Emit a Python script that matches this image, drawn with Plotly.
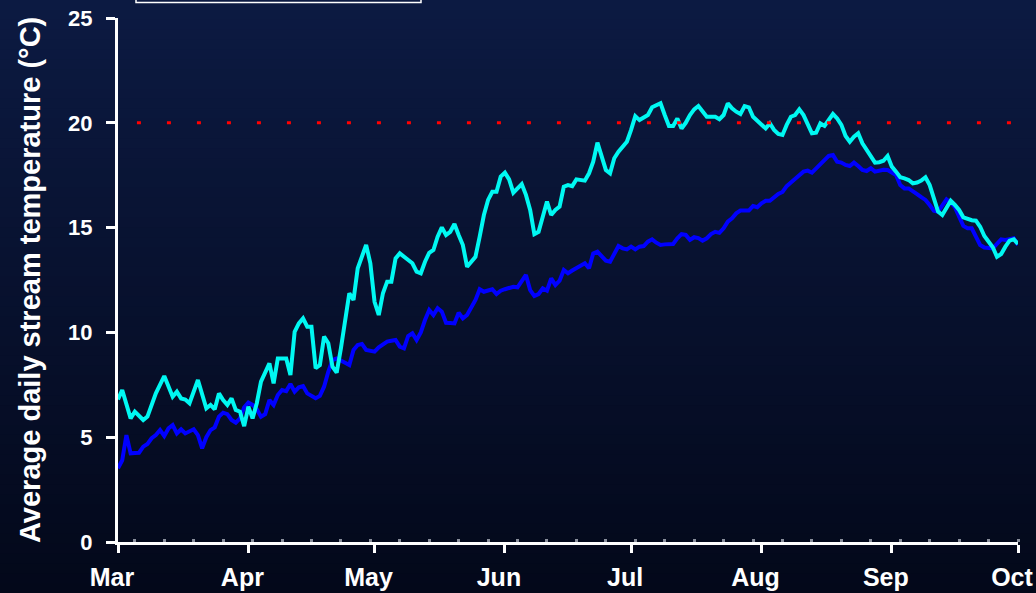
import plotly.graph_objects as go
import pandas as pd

# Season: daily mean stream temperature, 1 March to 1 October
season_start = pd.Timestamp("2005-03-01")

# Upper (warmer) station: day offset from 1 March, temperature in °C
warm_days = [0, 1, 3, 4, 6, 7, 9, 11, 13, 14, 15, 16, 17, 19, 21, 22, 23, 24, 25, 26,
             27, 28, 29, 30, 31, 32, 33, 34, 36, 37, 38, 39, 40, 41, 42, 43, 44, 45, 46, 47,
             48, 49, 50, 51, 52, 53, 55, 56, 57, 59, 60, 61, 62, 63, 64, 65, 66, 67, 68, 70,
             71, 72, 73, 74, 75, 76, 77, 78, 79, 80, 81, 82, 83, 84, 85, 86, 87, 88, 89, 90,
             91, 92, 93, 94, 95, 96, 97, 98, 99, 100, 101, 102, 103, 104, 105, 106, 107, 108, 109, 110,
             111, 112, 113, 114, 115, 116, 117, 118, 119, 120, 121, 122, 123, 124, 125, 126, 127, 128, 129, 130,
             131, 132, 133, 134, 135, 136, 137, 138, 139, 140, 141, 142, 143, 144, 145, 146, 147, 148, 149, 150,
             151, 152, 153, 154, 155, 156, 157, 158, 159, 160, 161, 162, 163, 164, 165, 166, 167, 168, 169, 170,
             171, 172, 173, 174, 175, 176, 177, 178, 179, 180, 181, 182, 183, 184, 185, 186, 187, 188, 189, 190,
             191, 192, 193, 194, 195, 196, 197, 198, 199, 200, 201, 202, 203, 204, 205, 206, 207, 208, 209, 210,
             211, 212, 213, 214]
warm_temp = [6.8, 7.25, 5.9, 6.22, 5.82, 5.98, 7.09, 7.92, 6.93, 7.17, 6.85, 6.8, 6.62, 7.73, 6.38, 6.54, 6.33, 7.09, 6.77, 6.54,
             6.85, 6.3, 6.22, 5.53, 6.46, 5.9, 6.62, 7.65, 8.52, 7.57, 8.76, 8.76, 8.76, 7.97, 10.03, 10.43, 10.67, 10.27, 10.27, 8.29,
             8.44, 9.8, 9.48, 8.36, 8.08, 9.24, 11.87, 11.55, 13.06, 14.17, 13.3, 11.46, 10.83, 11.87, 12.42, 12.42, 13.53, 13.77, 13.61, 13.3,
             12.9, 12.82, 13.37, 13.8, 13.93, 14.57, 15.01, 14.65, 14.8, 15.17, 14.65, 14.17, 13.13, 13.37, 13.61, 14.57, 15.6, 16.32, 16.71, 16.71,
             17.43, 17.62, 17.3, 16.67, 16.87, 17.08, 16.56, 15.84, 14.69, 14.8, 15.52, 16.24, 15.6, 15.84, 16.0, 16.95, 17.03, 16.98, 17.3, 17.27,
             17.24, 17.59, 18.14, 19.05, 18.38, 17.75, 17.59, 18.31, 18.62, 18.83, 19.1, 19.66, 20.32, 20.13, 20.25, 20.37, 20.74, 20.85, 20.93, 20.37,
             19.85, 19.85, 20.21, 19.73, 20.0, 20.37, 20.64, 20.8, 20.53, 20.29, 20.29, 20.29, 20.17, 20.37, 20.93, 20.69, 20.53, 20.42, 20.8, 20.74,
             20.29, 20.1, 19.9, 19.73, 19.97, 19.66, 19.47, 19.42, 19.9, 20.29, 20.37, 20.64, 20.37, 19.9, 19.5, 19.53, 19.97, 19.85, 20.17, 20.42,
             20.21, 19.9, 19.37, 19.1, 19.34, 19.5, 19.02, 18.7, 18.42, 18.1, 18.12, 18.19, 18.42, 17.91, 17.67, 17.4, 17.35, 17.27, 17.11, 17.15,
             17.24, 17.4, 17.03, 16.32, 15.76, 15.6, 15.92, 16.28, 16.08, 15.84, 15.49, 15.4, 15.35, 15.33, 15.04, 14.6, 14.33, 14.06, 13.61, 13.74,
             14.09, 14.38, 14.44, 14.22]

# Lower (cooler) station
cool_days = [0, 1, 2, 3, 4, 5, 6, 7, 8, 9, 10, 11, 12, 13, 14, 15, 16, 17, 18, 19,
             20, 21, 22, 23, 24, 25, 26, 27, 28, 29, 30, 31, 32, 33, 34, 35, 36, 37, 38, 39,
             40, 41, 42, 43, 44, 45, 46, 47, 48, 49, 50, 51, 52, 53, 54, 55, 56, 57, 58, 59,
             60, 61, 62, 63, 64, 65, 66, 67, 68, 69, 70, 71, 72, 73, 74, 75, 76, 77, 78, 79,
             80, 81, 82, 83, 84, 85, 86, 87, 88, 89, 90, 91, 92, 93, 94, 95, 96, 97, 98, 99,
             100, 101, 102, 103, 104, 105, 106, 107, 108, 109, 110, 111, 112, 113, 114, 115, 116, 117, 118, 119,
             120, 121, 122, 123, 124, 125, 126, 127, 128, 129, 130, 131, 132, 133, 134, 135, 136, 137, 138, 139,
             140, 141, 142, 143, 144, 145, 146, 147, 148, 149, 150, 151, 152, 153, 154, 155, 156, 157, 158, 159,
             160, 161, 162, 163, 164, 165, 166, 167, 168, 169, 170, 171, 172, 173, 174, 175, 176, 177, 178, 179,
             180, 181, 182, 183, 184, 185, 186, 187, 188, 189, 190, 191, 192, 193, 194, 195, 196, 197, 198, 199,
             200, 201, 202, 203, 204, 205, 206, 207, 208, 209, 210, 211, 212, 213, 214]
cool_temp = [3.52, 3.9, 5.1, 4.23, 4.25, 4.26, 4.55, 4.68, 4.95, 5.1, 5.34, 5.06, 5.42, 5.58, 5.18, 5.38, 5.18, 5.26, 5.38, 5.1,
             4.47, 5.0, 5.34, 5.47, 5.98, 6.17, 6.1, 5.82, 5.69, 5.9, 6.43, 6.65, 6.54, 6.33, 5.98, 6.1, 6.77, 6.54, 7.01, 7.25,
             7.2, 7.54, 7.17, 7.38, 7.44, 7.09, 6.95, 6.86, 6.97, 7.41, 8.12, 8.68, 8.76, 8.68, 8.55, 8.44, 9.16, 9.4, 9.45, 9.16,
             9.1, 9.08, 9.29, 9.45, 9.56, 9.6, 9.64, 9.32, 9.24, 9.83, 9.96, 9.64, 10.0, 10.59, 11.07, 10.83, 11.15, 10.99, 10.46, 10.45,
             10.43, 10.94, 10.67, 10.83, 11.15, 11.55, 12.06, 11.94, 12.0, 12.06, 11.83, 11.99, 12.06, 12.13, 12.18, 12.15, 12.47, 12.74, 12.02, 11.74,
             11.83, 12.1, 11.99, 12.58, 12.26, 12.47, 12.98, 12.82, 12.95, 13.06, 13.17, 13.3, 13.06, 13.77, 13.85, 13.6, 13.42, 13.37, 13.77, 14.12,
             14.01, 13.96, 14.09, 13.96, 14.09, 14.12, 14.33, 14.44, 14.28, 14.17, 14.2, 14.2, 14.22, 14.49, 14.69, 14.65, 14.41, 14.54, 14.5, 14.38,
             14.49, 14.69, 14.8, 14.75, 14.97, 15.28, 15.44, 15.68, 15.81, 15.81, 15.81, 16.03, 15.97, 16.16, 16.28, 16.28, 16.45, 16.6, 16.7, 16.98,
             17.15, 17.35, 17.5, 17.67, 17.72, 17.62, 17.83, 18.06, 18.22, 18.42, 18.46, 18.14, 18.1, 17.99, 17.94, 18.1, 17.94, 17.75, 17.7, 17.83,
             17.67, 17.72, 17.76, 17.75, 17.62, 17.51, 17.03, 16.87, 16.87, 16.75, 16.6, 16.45, 16.32, 16.08, 15.81, 15.76, 16.03, 16.35, 16.19, 15.97,
             15.52, 15.08, 14.97, 14.97, 14.57, 14.17, 14.05, 14.01, 14.01, 14.22, 14.44, 14.41, 14.45, 14.49, 14.17]

# Temperature criterion and the day (offset) where its reference line begins
criterion_temp = 20
criterion_start_day = 4.5

month_labels = ["Mar", "Apr", "May", "Jun", "Jul", "Aug", "Sep", "Oct"]
y_ticks = [0, 5, 10, 15, 20, 25]

month_starts = pd.date_range(season_start, periods=len(month_labels), freq="MS")
warm_dates = season_start + pd.to_timedelta(warm_days, unit="D")
cool_dates = season_start + pd.to_timedelta(cool_days, unit="D")
season_end = month_starts[-1]
criterion_start = season_start + pd.to_timedelta(criterion_start_day, unit="D")

W, H = 1036, 593
ML, MR, MT, MB = 118, 18, 18, 51
PW, PH = W - ML - MR, H - MT - MB

fig = go.Figure()

# Dark navy backdrop, slightly lighter towards the top
shapes = []
n_bands = 60
top_rgb = (12, 26, 66)
bot_rgb = (3, 8, 26)
x0p, x1p = -ML / PW, 1 + MR / PW
y0p, y1p = -MB / PH, 1 + MT / PH
for i in range(n_bands):
    f = i / (n_bands - 1)
    r = round(bot_rgb[0] + (top_rgb[0] - bot_rgb[0]) * f)
    g = round(bot_rgb[1] + (top_rgb[1] - bot_rgb[1]) * f)
    b = round(bot_rgb[2] + (top_rgb[2] - bot_rgb[2]) * f)
    ya = y0p + (y1p - y0p) * i / n_bands
    yb = y0p + (y1p - y0p) * (i + 1) / n_bands + 0.002
    shapes.append(dict(type="rect", xref="paper", yref="paper", x0=x0p, x1=x1p, y0=ya, y1=yb,
                       fillcolor=f"rgb({r},{g},{b})", line=dict(width=0), layer="below"))

# Legend frame along the top edge
shapes.append(dict(type="rect", xref="paper", yref="paper",
                   x0=(136 - ML) / PW, x1=(421 - ML) / PW,
                   y0=1 + (MT - 2.5) / PH, y1=1 + (MT + 20) / PH,
                   line=dict(color="white", width=1.5), fillcolor="rgba(0,0,0,0)", layer="above"))

# Criterion line at 20 °C
shapes.append(dict(type="line", xref="x", yref="y",
                   x0=criterion_start, x1=season_end, y0=criterion_temp, y1=criterion_temp,
                   line=dict(color="#ff0000", width=3, dash="4px,26px"), layer="above"))

fig.add_trace(go.Scatter(x=cool_dates, y=cool_temp, mode="lines", name="Station B",
                         line=dict(color="#0000ff", width=4), showlegend=False))
fig.add_trace(go.Scatter(x=warm_dates, y=warm_temp, mode="lines", name="Station A",
                         line=dict(color="#00f8f2", width=4), showlegend=False))

fig.update_layout(
    width=W, height=H,
    margin=dict(l=ML, r=MR, t=MT, b=MB, autoexpand=False),
    paper_bgcolor="rgb(7,15,40)",
    plot_bgcolor="rgba(0,0,0,0)",
    shapes=shapes,
    showlegend=False,
    annotations=[dict(
        text="<b>Average daily stream temperature (°C)</b>",
        xref="paper", yref="paper", x=(30 - ML) / PW, y=0.5,
        xanchor="center", yanchor="middle", textangle=-90, showarrow=False,
        font=dict(family="Liberation Sans, Arial, sans-serif", size=29, color="white"),
    )],
)

fig.update_xaxes(
    range=[season_start, season_end],
    tickvals=month_starts, ticktext=month_labels,
    automargin=False,
    showgrid=False, zeroline=False,
    showline=True, linecolor="white", linewidth=3,
    ticks="outside", ticklen=8, tickwidth=2.5, tickcolor="white",
    tickfont=dict(family="Liberation Sans, Arial, sans-serif",
                  size=25, color="white", weight="bold"),
    ticklabelstandoff=3,
    ticklabelshift=-6,
    ticklabeloverflow="allow",
    minor=dict(ticks="inside", ticklen=3, tickwidth=3, tickcolor="#8a8f9c",
               dtick=7 * 86400000, tick0=season_start + pd.Timedelta(days=4), showgrid=False),
)
fig.update_yaxes(
    range=[0, 25], tickvals=y_ticks,
    automargin=False,
    showgrid=False, zeroline=False,
    showline=True, linecolor="white", linewidth=3,
    ticks="outside", ticklen=9, tickwidth=3, tickcolor="white",
    tickfont=dict(family="Liberation Sans, Arial, sans-serif", size=22, color="white", weight="bold"),
    ticklabelstandoff=9,
)

fig.write_html("out.html")
